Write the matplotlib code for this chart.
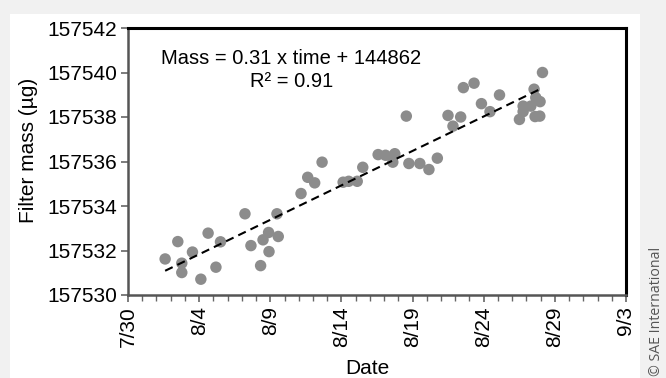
import matplotlib
matplotlib.use("Agg")
import matplotlib.pyplot as plt
from matplotlib.patches import Rectangle
from matplotlib.ticker import MultipleLocator
import numpy as np

plt.rcParams['font.family'] = ['Liberation Sans', 'DejaVu Sans']

# Days after 7/30 (measurement times)
days = [2.61, 3.50, 3.78, 3.78, 4.53, 5.12, 5.63, 6.18, 6.50, 8.22,
        8.64, 9.32, 9.49, 9.88, 9.91, 10.47, 10.56, 12.16, 12.63, 13.12,
        13.64, 15.12, 15.51, 16.11, 16.50, 17.58, 18.10, 18.61, 18.75, 19.56,
        19.74, 20.51, 21.15, 21.74, 22.49, 22.84, 23.38, 23.57, 24.32, 24.84,
        25.44, 26.11, 27.51, 27.77, 27.77, 28.31, 28.54, 28.66, 28.96, 28.61,
        28.94, 29.13]
# Filter mass (µg)
mass = [157531.62, 157532.40, 157531.43, 157531.01, 157531.93, 157530.71, 157532.78, 157531.25, 157532.39, 157533.65,
        157532.22, 157531.32, 157532.48, 157532.81, 157531.95, 157533.65, 157532.63, 157534.56, 157535.29, 157535.04,
        157535.97, 157535.07, 157535.11, 157535.11, 157535.74, 157536.31, 157536.28, 157535.97, 157536.35, 157538.04,
        157535.91, 157535.91, 157535.64, 157536.15, 157538.07, 157537.59, 157538.00, 157539.32, 157539.52, 157538.60,
        157538.24, 157538.99, 157537.89, 157538.49, 157538.24, 157538.49, 157539.25, 157538.87, 157538.69, 157538.02,
        157538.04, 157540.00]

xtick_days = [0, 5, 10, 15, 20, 25, 30, 35]
xtick_labels = ["7/30", "8/4", "8/9", "8/14", "8/19", "8/24", "8/29", "9/3"]
yticks = [157530, 157532, 157534, 157536, 157538, 157540, 157542]

fig = plt.figure(figsize=(6.66, 3.78), dpi=100, facecolor='#f1f1f1')
W, H = 666, 378
card = Rectangle((10 / W, 0), 630 / W, 1 - 14 / H, transform=fig.transFigure,
                 facecolor='white', edgecolor='none', zorder=-10)
fig.add_artist(card)

ax = fig.add_axes([128 / W, 1 - 295 / H, 498 / W, 267 / H])
ax.set_facecolor('white')

ax.scatter(days, mass, s=68, color='#8c8c8c', edgecolors='none', zorder=3)

coef = np.polyfit(days, mass, 1)
xf = np.array([min(days), max(days)])
ax.plot(xf, np.polyval(coef, xf), color='black', ls=(0, (4, 2.5)), lw=1.5, zorder=4)

ax.set_xlim(0, 35)
ax.set_ylim(157530, 157542)
ax.set_xticks(xtick_days)
ax.set_xticklabels(xtick_labels, rotation=90, fontsize=15)
ax.xaxis.set_minor_locator(MultipleLocator(1))
ax.set_yticks(yticks)
ax.set_yticklabels([str(v) for v in yticks], fontsize=15)

ax.tick_params(axis='both', which='major', direction='out', length=5, width=1.2, color='#666666', pad=3)
ax.tick_params(axis='x', which='minor', direction='out', length=4, width=1.0, color='#666666')

for s in ['top', 'right']:
    ax.spines[s].set_color('black')
    ax.spines[s].set_linewidth(2.2)
for s in ['left', 'bottom']:
    ax.spines[s].set_color('#555555')
    ax.spines[s].set_linewidth(1.8)

ax.set_xlabel('Date', fontsize=15)
ax.set_ylabel('Filter mass (µg)', fontsize=15)
ax.xaxis.set_label_coords(0.48, -0.24)
ax.yaxis.set_label_coords(-0.181, 0.543)

ax.text(0.328, 0.885, 'Mass = 0.31 x time + 144862', transform=ax.transAxes,
        ha='center', va='center', fontsize=14.5)
ax.text(0.328, 0.80, 'R² = 0.91', transform=ax.transAxes,
        ha='center', va='center', fontsize=14.5)

fig.text(656 / W, 2 / H, '© SAE International', rotation=90, ha='center', va='bottom',
         fontsize=10.2, color='#555555', family=['Open Sans', 'DejaVu Sans'])

fig.savefig('out.png', dpi=100, facecolor=fig.get_facecolor())
